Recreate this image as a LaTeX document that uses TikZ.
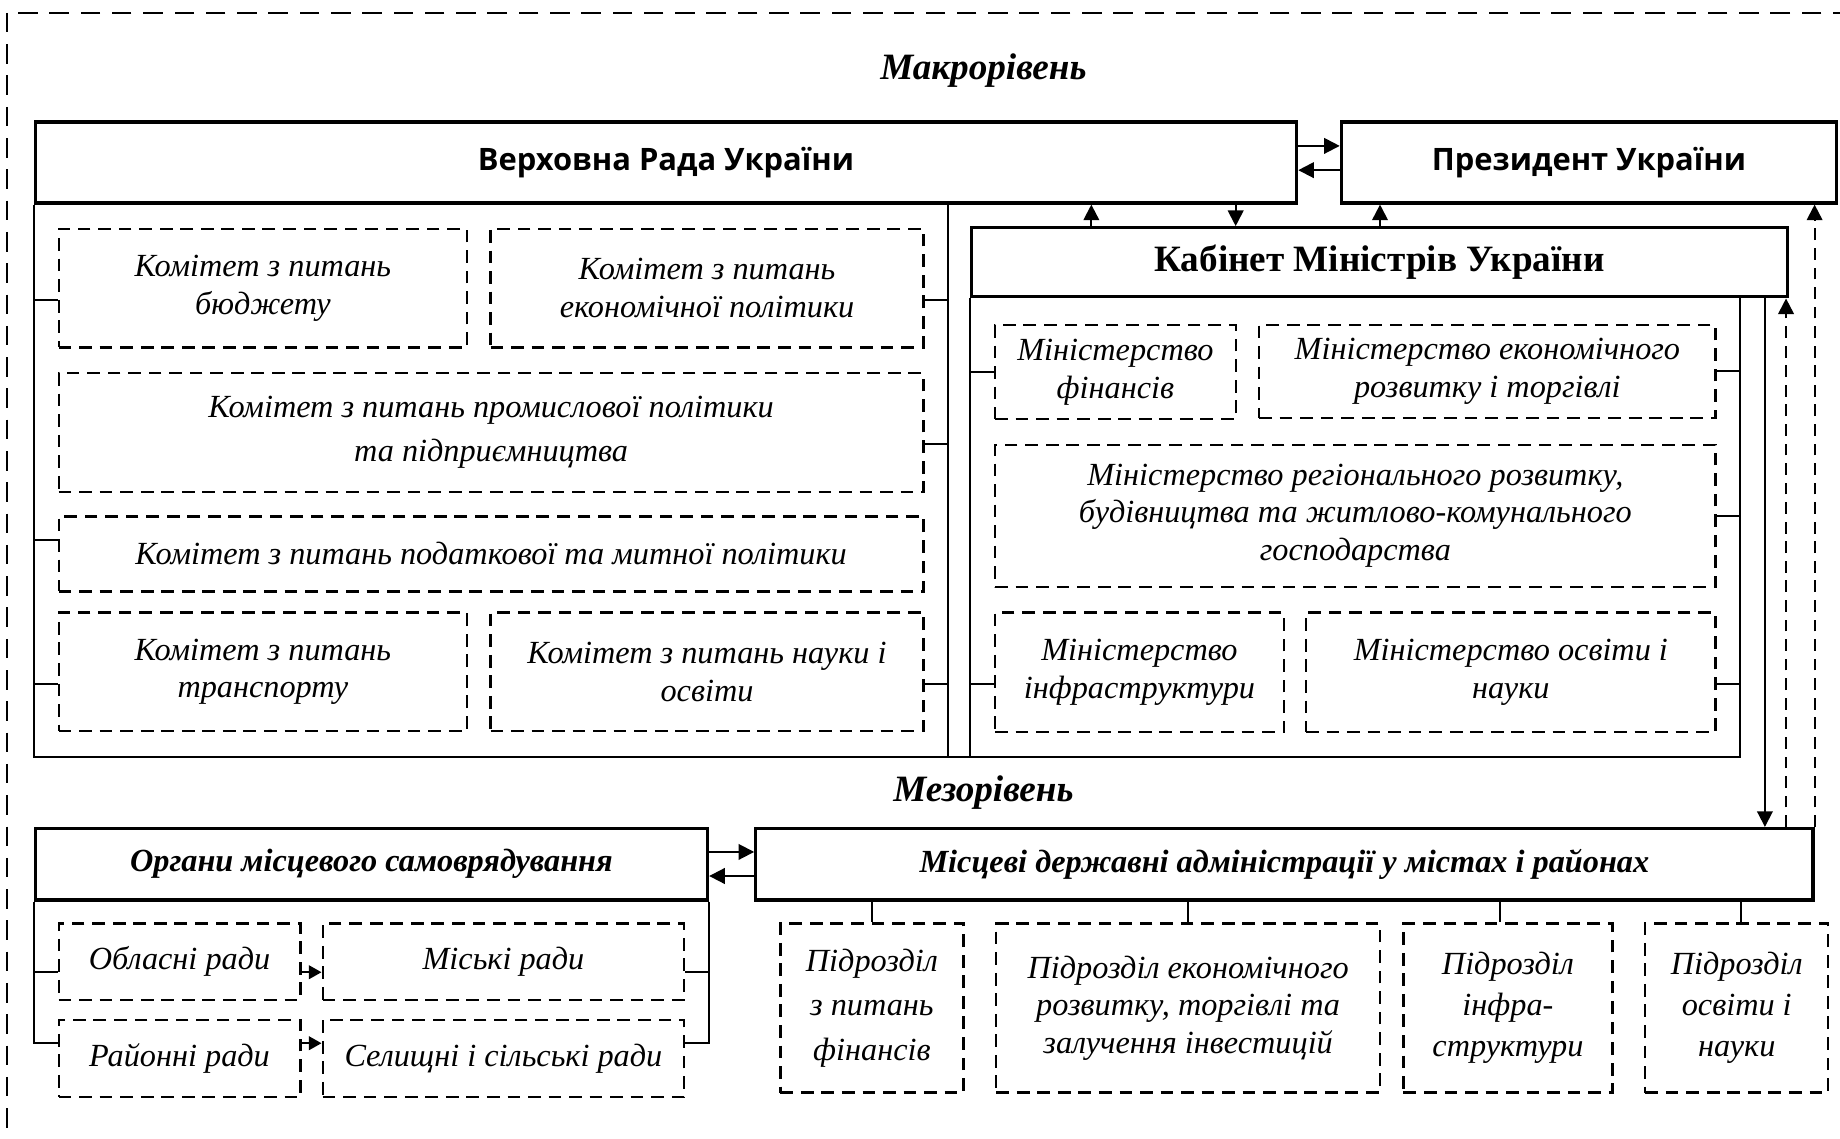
\documentclass[tikz,border=0pt]{standalone}
\usepackage{fontspec}
\setmainfont{Liberation Serif}
\newfontfamily\headsans{Open Sans}
\usetikzlibrary{arrows.meta}

\newcommand{\bodyit}{\fontsize{16.5}{19.2}\selectfont\itshape}
\newcommand{\bodyitw}{\fontsize{16.5}{22.8}\selectfont\itshape}
\newcommand{\bodyitm}{\fontsize{16.5}{21}\selectfont\itshape}
\newcommand{\headit}{\fontsize{16.5}{19}\selectfont\bfseries\itshape}

\begin{document}
\begin{tikzpicture}[x=0.6pt, y=-0.6pt,
    boxsize/.style 2 args={minimum width=0.6pt*#1, minimum height=0.6pt*#2},
    mainbox/.style={draw, line width=1.6pt, inner sep=0pt},
    unitbox/.style={draw, line width=1.2pt, dash pattern=on 6.5pt off 4pt,
      inner sep=0pt, align=center, font=\bodyit},
    link/.style={line width=1pt},
    arr/.style={link, -{Triangle[length=8pt,width=8pt]}},
    smallarr/.style={link, -{Triangle[length=6.5pt,width=7pt]}},
    darr/.style={arr, dash pattern=on 6pt off 4pt}]
\useasboundingbox (0,0) rectangle (1568,970);
\clip (0,0) rectangle (1568,970);
% outer frame
\draw[line width=1.4pt, dash pattern=on 10pt off 6pt] (6,11) rectangle (1620,1010);

% macro level
\node[font=\fontsize{19}{22}\selectfont\bfseries\itshape] (makro) at (838,60) {Макрорівень};
\node[mainbox, boxsize={1075}{69}, font=\headsans\bfseries\fontsize{15.8}{18}\selectfont] (vr) at (567.5,138.5) {Верховна Рада України};
\node[mainbox, boxsize={422}{69}, font=\headsans\bfseries\fontsize{15.8}{18}\selectfont] (prez) at (1354,138.5) {Президент України};
\node[mainbox, boxsize={695}{59}, font=\fontsize{19}{22}\selectfont\bfseries] (kmu) at (1175.5,223.5) {Кабінет Міністрів України};

% committees
\node[unitbox, boxsize={348}{101}] (k1) at (224,245.5) {Комітет з питань\\бюджету};
\node[unitbox, boxsize={369}{101}] (k2) at (602.5,245.5) {Комітет з питань\\економічної політики};
\node[unitbox, boxsize={737}{101}, font=\bodyitw] (k3) at (418.5,368.5) {Комітет з питань промислової політики\\та підприємництва};
\node[unitbox, boxsize={737}{64}] (k4) at (418.5,472) {Комітет з питань податкової та митної політики};
\node[unitbox, boxsize={348}{101}] (k5) at (224,572.5) {Комітет з питань\\транспорту};
\node[unitbox, boxsize={369}{101}] (k6) at (602.5,572.5) {Комітет з питань науки і\\освіти};

% ministries
\node[unitbox, boxsize={205}{80}] (m1) at (950.5,317) {Міністерство\\фінансів};
\node[unitbox, boxsize={389}{79}] (m2) at (1267.5,316.5) {Міністерство економічного\\розвитку і торгівлі};
\node[unitbox, boxsize={614}{121}] (m3) at (1155,439.5) {Міністерство регіонального розвитку,\\будівництва та житлово-комунального\\господарства};
\node[unitbox, boxsize={246}{102}] (m4) at (971,573) {Міністерство\\інфраструктури};
\node[unitbox, boxsize={349}{102}] (m5) at (1287.5,573) {Міністерство освіти і\\науки};

% meso level
\node[font=\fontsize{19}{22}\selectfont\bfseries\itshape] (mezo) at (838,675) {Мезорівень};
\node[mainbox, boxsize={573}{61}, font=\headit] (oms) at (316.5,736.5) {Органи місцевого самоврядування};
\node[mainbox, boxsize={901}{61}, font=\headit] (mda) at (1094.5,736.5) {Місцеві державні адміністрації у містах і районах};

\node[unitbox, boxsize={206}{65}] (ob) at (153,819.5) {Обласні ради};
\node[unitbox, boxsize={308}{65}] (mi) at (429,819.5) {Міські ради};
\node[unitbox, boxsize={206}{66}] (ra) at (153,902) {Районні ради};
\node[unitbox, boxsize={308}{66}] (se) at (429,902) {Селищні і сільські ради};

\node[unitbox, boxsize={156}{144}, font=\bodyitw] (p1) at (743,859) {Підрозділ\\з питань\\фінансів};
\node[unitbox, boxsize={327}{144}] (p2) at (1012.5,859) {Підрозділ економічного\\розвитку, торгівлі та\\залучення інвестицій};
\node[unitbox, boxsize={178}{144}, font=\bodyitm] (p3) at (1285,859) {Підрозділ\\інфра-\\структури};
\node[unitbox, boxsize={156}{144}, font=\bodyitm] (p4) at (1480,859) {Підрозділ\\освіти і\\науки};

% enclosures
\coordinate (vrb) at (808,645);
\coordinate (kmb) at (1483,645);
\draw[link] (vr.south west) |- (kmb) -- (kmb |- kmu.south);
\draw[link] (vrb |- vr.south) -- (vrb);
\draw[link] (kmu.south west) -- (kmu.south west |- vrb);
\draw[link] (oms.south west) |- ([yshift=7.8pt]ra.west);
\draw[link] (oms.south east) |- ([yshift=7.8pt]se.east);

% ticks
\draw[link] ([yshift=-6.3pt]k1.west) -- ++(-20,0);
\draw[link] ([yshift=7pt]k4.west) -- ++(-20,0);
\draw[link] ([yshift=-6.3pt]k5.west) -- ++(-20,0);
\draw[link] ([yshift=-6.3pt]k2.east) -- ++(21,0);
\draw[link] ([yshift=-5.7pt]k3.east) -- ++(21,0);
\draw[link] ([yshift=-6.3pt]k6.east) -- ++(21,0);
\draw[link] (m1.west) -- ++(-20,0);
\draw[link] ([yshift=-6pt]m4.west) -- ++(-20,0);
\draw[link] (m2.east) -- ++(21,0);
\draw[link] (m3.east) -- ++(21,0);
\draw[link] ([yshift=-6pt]m5.east) -- ++(21,0);
\draw[link] ([yshift=-5.4pt]ob.west) -- ++(-20,0);
\draw[link] ([yshift=-5.4pt]mi.east) -- ++(20,0);
\draw[link] (p1.north |- mda.south) -- (p1.north);
\draw[link] (p2.north |- mda.south) -- (p2.north);
\draw[link] ([xshift=-4pt]p3.north |- mda.south) -- ([xshift=-4pt]p3.north);
\draw[link] ([xshift=2pt]p4.north |- mda.south) -- ([xshift=2pt]p4.north);

% arrows
\draw[arr] ([yshift=8.5pt]vr.east) -- ([yshift=8.5pt]prez.west);
\draw[arr] ([yshift=-3.9pt]prez.west) -- ([yshift=-3.9pt]vr.east);
\coordinate (ca) at (930,0);
\coordinate (cb) at (1053,0);
\coordinate (cc) at (1176,0);
\coordinate (cd) at (1504,0);
\coordinate (ce) at (1522,0);
\draw[arr] (ca |- kmu.north) -- (ca |- vr.south);
\draw[arr] (cb |- vr.south) -- (cb |- kmu.north);
\draw[arr] (cc |- kmu.north) -- (cc |- prez.south);
\draw[arr] (cd |- kmu.south) -- (cd |- mda.north);
\draw[darr] (ce |- mda.north) -- (ce |- kmu.south);
\draw[darr] (mda.north east) -- (mda.north east |- prez.south);
\draw[arr] ([yshift=6.3pt]oms.east) -- ([yshift=6.3pt]mda.west);
\draw[arr] ([yshift=-6pt]mda.west) -- ([yshift=-6pt]oms.east);
\draw[smallarr] ([yshift=-5.4pt]ob.east) -- ([yshift=-5.4pt]mi.west);
\draw[smallarr] ([yshift=7.8pt]ra.east) -- ([yshift=7.8pt]se.west);
\end{tikzpicture}
\end{document}
